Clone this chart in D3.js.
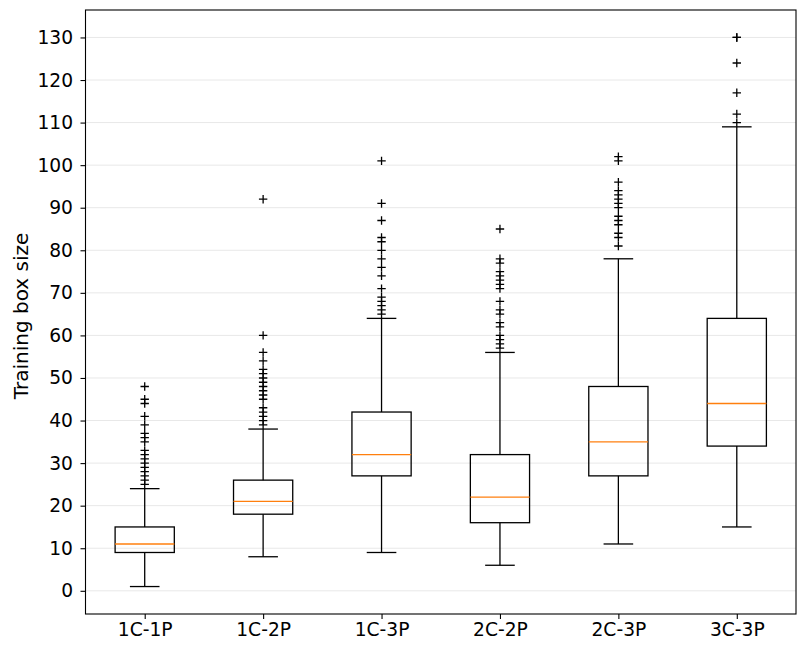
<!DOCTYPE html>
<html>
<head>
<meta charset="utf-8">
<script src="https://cdn.jsdelivr.net/npm/d3@7"></script>
<style>
  body { margin: 0; background: #fff; }
  svg { display: block; }
  text { font-family: "DejaVu Sans", sans-serif; }
</style>
</head>
<body>
<svg id="chart" width="807" height="647"></svg>
<script>
// box summary per configuration
var categories = ["1C-1P", "1C-2P", "1C-3P", "2C-2P", "2C-3P", "3C-3P"];
var whiskerLow = [1, 8, 9, 6, 11, 15];
var q1 = [9, 18, 27, 16, 27, 34];
var median = [11, 21, 32, 22, 35, 44];
var q3 = [15, 26, 42, 32, 48, 64];
var whiskerHigh = [24, 38, 64, 56, 78, 109];
var outliers = [
    [25, 26, 27, 28, 29, 30, 31, 32, 33, 35, 36, 37, 39, 41, 44, 45, 48],
    [39, 40, 41, 42, 43, 45, 46, 47, 48, 49, 50, 51, 52, 54, 56, 60, 92],
    [65, 66, 67, 68, 69, 71, 74, 76, 78, 80, 82, 83, 87, 91, 101],
    [57, 58, 59, 60, 62, 63, 65, 66, 68, 71, 72, 73, 74, 75, 77, 78, 85],
    [81, 83, 84, 86, 87, 88, 90, 91, 92, 93, 94, 96, 101, 102],
    [110, 112, 117, 124, 130, 130]
];
var yTicks = d3.range(0, 131, 10);

var svg = d3.select("#chart");
var plotL = 85.5, plotR = 796, plotT = 10, plotB = 614;
var lw = 1.3;

// matplotlib style 5% margins around 1..130
var y = d3.scaleLinear().domain([-5.45, 136.45]).range([plotB, plotT]);
var x = d3.scaleLinear().domain([0.5, categories.length + 0.5]).range([plotL, plotR]);
var boxW = x(1) - x(0.5); // box is 0.5 units wide
var half = boxW / 2;

// grid
svg.append("g")
    .selectAll("line")
    .data(yTicks)
    .join("line")
    .attr("x1", plotL).attr("x2", plotR)
    .attr("y1", d => y(d)).attr("y2", d => y(d))
    .attr("stroke", "#e8e8e8").attr("stroke-width", 1);

// boxes
var boxes = svg.append("g").selectAll("g")
    .data(categories)
    .join("g")
    .attr("transform", (d, i) => "translate(" + x(i + 1) + ",0)")
    .attr("stroke-width", lw);

boxes.append("line") // lower whisker
    .attr("x1", 0).attr("x2", 0)
    .attr("y1", (d, i) => y(q1[i])).attr("y2", (d, i) => y(whiskerLow[i]))
    .attr("stroke", "#000");
boxes.append("line") // upper whisker
    .attr("x1", 0).attr("x2", 0)
    .attr("y1", (d, i) => y(q3[i])).attr("y2", (d, i) => y(whiskerHigh[i]))
    .attr("stroke", "#000");
boxes.append("line") // caps
    .attr("x1", -half / 2).attr("x2", half / 2)
    .attr("y1", (d, i) => y(whiskerLow[i])).attr("y2", (d, i) => y(whiskerLow[i]))
    .attr("stroke", "#000");
boxes.append("line")
    .attr("x1", -half / 2).attr("x2", half / 2)
    .attr("y1", (d, i) => y(whiskerHigh[i])).attr("y2", (d, i) => y(whiskerHigh[i]))
    .attr("stroke", "#000");
boxes.append("rect")
    .attr("x", -half).attr("width", boxW)
    .attr("y", (d, i) => y(q3[i]))
    .attr("height", (d, i) => y(q1[i]) - y(q3[i]))
    .attr("fill", "none").attr("stroke", "#000");
boxes.append("line") // median
    .attr("x1", -half).attr("x2", half)
    .attr("y1", (d, i) => y(median[i])).attr("y2", (d, i) => y(median[i]))
    .attr("stroke", "#ff7f0e");

// fliers as '+'
boxes.each(function (d, i) {
    var g = d3.select(this).append("g");
    outliers[i].forEach(function (v) {
        g.append("path")
            .attr("d", "M-4.2," + y(v) + "H4.2M0," + (y(v) - 4.2) + "V" + (y(v) + 4.2))
            .attr("stroke", "#000").attr("stroke-width", lw);
    });
});

// axes
var yAxis = svg.append("g")
    .attr("transform", "translate(" + plotL + ",0)")
    .call(d3.axisLeft(y).tickValues(yTicks).tickSize(5).tickPadding(7.5));
var xAxis = svg.append("g")
    .attr("transform", "translate(0," + plotB + ")")
    .call(d3.axisBottom(x).tickValues(d3.range(1, categories.length + 1))
        .tickFormat(d => categories[d - 1]).tickSize(5).tickPadding(4));
[yAxis, xAxis].forEach(function (a) {
    a.select(".domain").remove();
    a.attr("font-size", 18.67).attr("font-family", "DejaVu Sans, sans-serif");
    a.selectAll("text").attr("fill", "#000");
    a.selectAll("line").attr("stroke", "#000").attr("stroke-width", 1.1);
});

// frame
svg.append("rect")
    .attr("x", plotL).attr("y", plotT)
    .attr("width", plotR - plotL).attr("height", plotB - plotT)
    .attr("fill", "none").attr("stroke", "#000").attr("stroke-width", 1.1);

svg.append("text")
    .attr("transform", "translate(28," + ((plotT + plotB) / 2 + 4) + ") rotate(-90)")
    .attr("text-anchor", "middle")
    .attr("font-size", 20)
    .text("Training box size");
</script>
</body>
</html>
